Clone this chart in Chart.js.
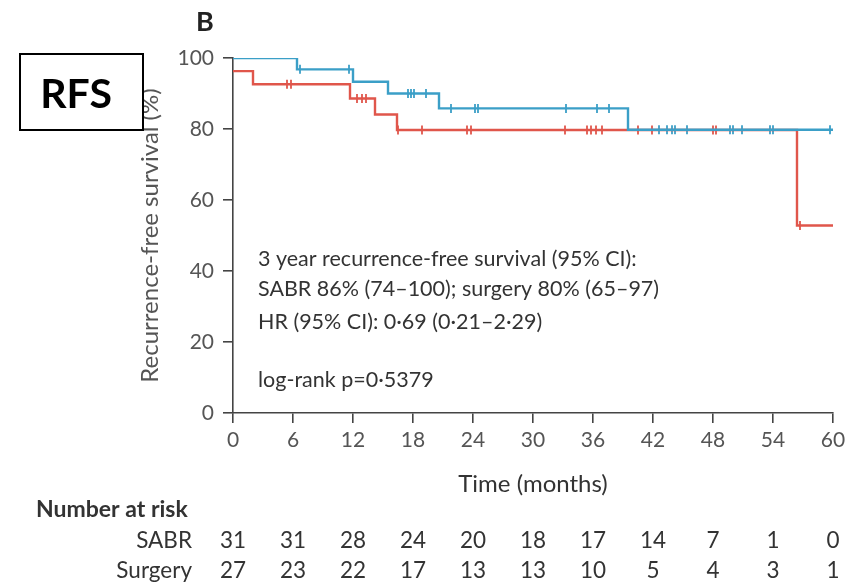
<!DOCTYPE html>
<html>
<head>
<meta charset="utf-8">
<script src="https://cdn.jsdelivr.net/npm/chart.js@4.4.1/dist/chart.umd.min.js"></script>
<style>
  html, body { margin: 0; padding: 0; background: #fff; }
  #wrap { width: 858px; height: 586px; position: relative; }
</style>
</head>
<body>
<div id="wrap"><canvas id="rfsChart" width="858" height="586"></canvas></div>
<script>
// Kaplan-Meier steps: [month, survival %]
const sabrSteps = [[0, 100], [6.4, 96.8], [12, 93.3], [15.5, 90.0], [20.6, 85.8], [39.5, 79.8], [60, 79.8]];
const surgerySteps = [[0, 96.3], [2, 92.6], [11.7, 88.6], [14.2, 84.1], [16.4, 79.7], [56.4, 52.8], [60, 52.8]];

// censor marks
const sabrCensored = [[6.7, 96.8], [11.6, 96.8], [17.5, 90.0], [17.8, 90.0], [18.1, 90.0], [19.3, 90.0],
    [21.8, 85.8], [24.2, 85.8], [24.5, 85.8], [33.3, 85.8], [36.4, 85.8], [37.6, 85.8],
    [42.6, 79.8], [43.4, 79.8], [43.9, 79.8], [44.2, 79.8], [45.4, 79.8], [49.7, 79.8],
    [50.0, 79.8], [50.9, 79.8], [53.7, 79.8], [54.0, 79.8], [59.7, 79.8]];
const surgeryCensored = [[5.4, 92.6], [5.8, 92.6], [12.4, 88.6], [12.9, 88.6], [13.3, 88.6],
    [16.5, 79.7], [18.9, 79.7], [23.4, 79.7], [23.8, 79.7], [33.2, 79.7], [35.4, 79.7],
    [35.8, 79.7], [36.3, 79.7], [36.9, 79.7], [40.5, 79.7], [41.9, 79.7], [48.0, 79.7],
    [48.3, 79.7], [56.7, 52.8]];

// number at risk table
const riskTimes = [0, 6, 12, 18, 24, 30, 36, 42, 48, 54, 60];
const sabrAtRisk = [31, 31, 28, 24, 20, 18, 17, 14, 7, 1, 0];
const surgeryAtRisk = [27, 23, 22, 17, 13, 13, 10, 5, 4, 3, 1];

const statLines = [
    '3 year recurrence-free survival (95% CI):',
    'SABR 86% (74\u2013100); surgery 80% (65\u201397)',
    'HR (95% CI): 0\u00b769 (0\u00b721\u20132\u00b729)'
];
const pValueLine = 'log-rank p=0\u00b75379';

const BLUE = '#3b9fc7';
const RED = '#e0564b';
const AXIS = '#444';
const TEXT = '#333';
const FONT = 'Lato, "Open Sans", sans-serif';

const toXY = arr => arr.map(p => ({ x: p[0], y: p[1] }));

const extras = {
    id: 'extras',
    afterDraw(chart) {
        const ctx = chart.ctx;
        const xs = chart.scales.x;
        ctx.save();

        // panel letter
        ctx.fillStyle = '#222';
        ctx.font = 'bold 27px ' + FONT;
        ctx.textAlign = 'center';
        ctx.textBaseline = 'middle';
        ctx.fillText('B', 205, 22);

        // RFS box
        ctx.fillStyle = '#fff';
        ctx.fillRect(20, 54, 123, 76);
        ctx.strokeStyle = '#000';
        ctx.lineWidth = 2;
        ctx.strokeRect(20, 54, 123, 76);
        ctx.fillStyle = '#000';
        ctx.font = 'bold 41px ' + FONT;
        ctx.fillText('RFS', 76, 95);

        // stats text
        ctx.fillStyle = TEXT;
        ctx.font = '21.5px ' + FONT;
        ctx.textAlign = 'left';
        const ys = [259, 289, 322];
        statLines.forEach((t, i) => ctx.fillText(t, 258, ys[i]));
        ctx.fillText(pValueLine, 258, 380);

        // number at risk
        ctx.font = 'bold 23px ' + FONT;
        ctx.fillText('Number at risk', 36, 510);
        ctx.font = '22.5px ' + FONT;
        ctx.textAlign = 'right';
        ctx.fillText('SABR', 192, 541);
        ctx.fillText('Surgery', 192, 571);
        ctx.textAlign = 'center';
        riskTimes.forEach((t, i) => {
            const px = xs.getPixelForValue(t);
            ctx.fillText(String(sabrAtRisk[i]), px, 541);
            ctx.fillText(String(surgeryAtRisk[i]), px, 571);
        });
        ctx.restore();
    }
};

new Chart(document.getElementById('rfsChart'), {
    type: 'line',
    data: {
        datasets: [
            {
                label: 'SABR',
                data: toXY(sabrSteps),
                borderColor: BLUE,
                borderWidth: 2.4,
                stepped: true,
                pointRadius: 0,
                fill: false
            },
            {
                label: 'Surgery',
                data: toXY(surgerySteps),
                borderColor: RED,
                borderWidth: 2.4,
                stepped: true,
                pointRadius: 0,
                fill: false
            },
            {
                label: 'SABR censored',
                data: toXY(sabrCensored),
                showLine: false,
                pointStyle: 'line',
                rotation: 90,
                pointRadius: 4.5,
                borderColor: BLUE,
                borderWidth: 1.8
            },
            {
                label: 'Surgery censored',
                data: toXY(surgeryCensored),
                showLine: false,
                pointStyle: 'line',
                rotation: 90,
                pointRadius: 4.5,
                borderColor: RED,
                borderWidth: 1.8
            }
        ]
    },
    options: {
        responsive: false,
        animation: false,
        layout: { padding: { left: 136, top: 58, right: 25, bottom: 87 } },
        plugins: {
            legend: { display: false },
            tooltip: { enabled: false }
        },
        scales: {
            x: {
                type: 'linear',
                min: 0,
                max: 60,
                ticks: { stepSize: 6, color: '#555', padding: 5, font: { family: FONT, size: 21 } },
                grid: { display: true, drawOnChartArea: false, drawTicks: true, tickLength: 10, color: AXIS, lineWidth: 1.6 },
                border: { display: true, color: AXIS, width: 1.6 },
                title: { display: true, text: 'Time (months)', color: TEXT, padding: 0, font: { family: FONT, size: 24 } },
                afterFit(scale) { scale.height = 86; }
            },
            y: {
                min: 0,
                max: 100,
                ticks: { stepSize: 20, color: '#555', padding: 9, font: { family: FONT, size: 21 } },
                grid: { display: true, drawOnChartArea: false, drawTicks: true, tickLength: 10, color: AXIS, lineWidth: 1.6 },
                border: { display: true, color: AXIS, width: 1.6 },
                title: { display: true, text: 'Recurrence-free survival (%)', color: '#555', padding: 0, font: { family: FONT, size: 24 } },
                afterFit(scale) { scale.width = 97; }
            }
        }
    },
    plugins: [extras]
});
</script>
</body>
</html>
